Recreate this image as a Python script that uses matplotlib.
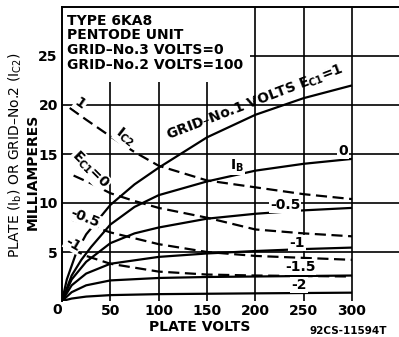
import matplotlib
matplotlib.use('Agg')
import matplotlib.pyplot as plt
from matplotlib.patches import Rectangle

plt.rcParams['font.family'] = ['DejaVu Sans']
plt.rcParams['mathtext.default'] = 'regular'

# ---------------- data ----------------
# Plate current Ib (solid) for grid-No.1 volts
v_ib_p1 = [0, 5, 10, 15, 25, 50, 75, 100, 150, 200, 250, 300]
ib_p1 = [0, 2.2, 3.6, 5.0, 6.8, 9.8, 11.9, 13.6, 16.7, 19.0, 20.7, 22.0]
v_ib_0 = [0, 10, 20, 30, 50, 75, 100, 150, 200, 250, 300]
ib_0 = [0, 2.6, 4.2, 5.5, 7.8, 9.6, 10.8, 12.2, 13.3, 14.0, 14.5]
v_ib_m05 = [0, 10, 25, 50, 75, 100, 150, 200, 250, 300]
ib_m05 = [0, 2.2, 4.0, 5.9, 6.9, 7.5, 8.4, 8.9, 9.25, 9.5]
v_ib_m1 = [0, 10, 25, 50, 100, 150, 200, 250, 300]
ib_m1 = [0, 1.6, 2.8, 3.8, 4.5, 4.85, 5.1, 5.3, 5.45]
v_ib_m15 = [0, 10, 25, 50, 100, 150, 200, 250, 300]
ib_m15 = [0, 0.9, 1.6, 2.1, 2.35, 2.45, 2.5, 2.55, 2.6]
v_ib_m2 = [0, 10, 25, 50, 100, 200, 300]
ib_m2 = [0, 0.25, 0.45, 0.6, 0.7, 0.78, 0.85]

# Grid-No.2 current Ic2 (dashed)
v_ic2_p1 = [8, 25, 50, 75, 100, 150, 200, 250, 300]
ic2_p1 = [19.7, 18.5, 16.8, 15.2, 13.8, 12.3, 11.6, 10.9, 10.4]
v_ic2_0 = [12, 30, 50, 75, 100, 150, 200, 250, 300]
ic2_0 = [12.8, 12.0, 11.0, 10.2, 9.5, 8.5, 7.3, 6.9, 6.6]
v_ic2_m05 = [10, 30, 50, 100, 150, 200, 250, 300]
ic2_m05 = [8.3, 7.7, 7.0, 5.8, 5.0, 4.6, 4.4, 4.2]
v_ic2_m1 = [10, 25, 50, 100, 150, 200, 250, 300]
ic2_m1 = [5.3, 4.6, 3.8, 3.0, 2.7, 2.6, 2.55, 2.5]

x_ticks = [50, 100, 150, 200, 250, 300]
y_ticks = [5, 10, 15, 20, 25]

# ---------------- figure ----------------
W, H = 399, 337
PXV = 0.9667   # pixels per volt
PXA = 9.8      # pixels per mA
X0, Y0 = 62, 301
fig = plt.figure(figsize=(W / 100, H / 100), dpi=100)
ax = fig.add_axes([X0 / W, 1 - Y0 / H, (W - X0) / W, (30 * PXA) / H])
ax.set_xlim(0, (W - X0) / PXV)
ax.set_ylim(0, 30)

def pos(x, y):
    return ((x - X0) / PXV, (Y0 - y) / PXA)

for s in ['right', 'bottom']:
    ax.spines[s].set_visible(False)
for s in ['left', 'top']:
    ax.spines[s].set_linewidth(1.4)

for xv in x_ticks:
    ax.axvline(xv, color='black', lw=1.2, zorder=1)
for yv in y_ticks:
    ax.axhline(yv, color='black', lw=1.2, zorder=1)

ax.set_xticks(x_ticks)
ax.set_yticks(y_ticks)
fs = 10
ax.tick_params(axis='both', length=0, labelsize=fs)
ax.tick_params(axis='x', pad=2)
ax.tick_params(axis='y', pad=3)
for lbl in ax.get_xticklabels() + ax.get_yticklabels():
    lbl.set_fontweight('bold')
ax.text(*pos(57, 310), '0', ha='center', va='center', fontsize=fs,
        fontweight='bold', clip_on=False)

lw = 1.6
dash = (0, (5, 2.5))
for v, i in [(v_ib_p1, ib_p1), (v_ib_0, ib_0), (v_ib_m05, ib_m05),
             (v_ib_m1, ib_m1), (v_ib_m15, ib_m15), (v_ib_m2, ib_m2)]:
    ax.plot(v, i, color='black', lw=lw, zorder=3, solid_capstyle='butt')
for v, i in [(v_ic2_p1, ic2_p1), (v_ic2_0, ic2_0), (v_ic2_m05, ic2_m05),
             (v_ic2_m1, ic2_m1)]:
    ax.plot(v, i, color='black', lw=lw, ls=dash, zorder=3)

# title box
ax.add_patch(Rectangle((0, 22.3), 194, 7.7, facecolor='white',
                       edgecolor='none', zorder=2.2))
title_lines = ['TYPE 6KA8', 'PENTODE UNIT', 'GRID–No.3 VOLTS=0',
               'GRID–No.2 VOLTS=100']
for txt, yb in zip(title_lines, [25, 39, 54, 69]):
    fig.text(67 / W, 1 - yb / H, txt, fontsize=fs, fontweight='bold',
             ha='left', va='baseline')

# curve labels
bb = dict(facecolor='white', edgecolor='none', pad=0.6)
def lab(x, y, s, rot=0, size=fs):
    ax.text(*pos(x, y), s, rotation=rot, ha='center', va='center',
            fontsize=size, fontweight='bold', bbox=bb, zorder=4,
            rotation_mode='anchor')

lab(80, 104, '1', -35)
lab(125, 137, 'I$_{C2}$', -38)
lab(90, 170, 'E$_{C1}$=0', -45)
lab(85, 218, '-0.5', -22)
lab(73, 244, '-1', -30)
lab(237, 166, 'I$_B$')
lab(343, 151, '0')
lab(285, 205, '-0.5')
lab(297, 243, '-1')
lab(300, 267, '-1.5')
lab(299, 285, '-2')
ax.text(*pos(255, 103), 'GRID–No.1 VOLTS E$_{C1}$=1', rotation=21,
        ha='center', va='center', fontsize=fs, fontweight='bold',
        rotation_mode='anchor', zorder=4)

# axis labels
fig.text(200 / W, 1 - 327 / H, 'PLATE VOLTS', ha='center', va='center',
         fontsize=fs, fontweight='bold')
fig.text(348 / W, 1 - 331 / H, '92CS-11594T', ha='center', va='center',
         fontsize=7.5, fontweight='bold')
fig.text(15 / W, 1 - 155 / H, 'PLATE (I$_b$) OR GRID–No.2 (I$_{C2}$)',
         rotation=90, ha='center', va='center', fontsize=fs)
fig.text(33 / W, 1 - 172 / H, 'MILLIAMPERES', rotation=90, ha='center',
         va='center', fontsize=fs, fontweight='bold')

fig.savefig('out.png', dpi=100)
